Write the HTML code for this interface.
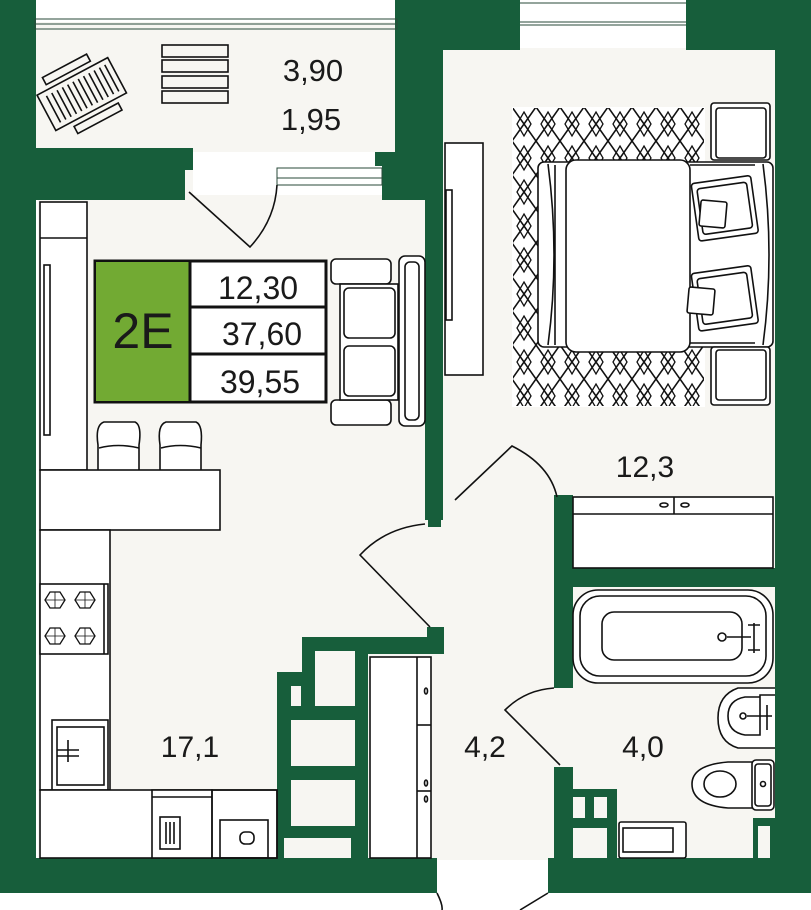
<!DOCTYPE html>
<html><head><meta charset="utf-8"><style>
html,body{margin:0;padding:0;background:#fff;}
svg{display:block;}
text{font-family:"Liberation Sans",sans-serif;fill:#1a1a1a;}
</style></head><body>
<svg width="811" height="910" viewBox="0 0 811 910" xmlns="http://www.w3.org/2000/svg">
<defs>
<pattern id="dia" x="512" y="107" width="24" height="34" patternUnits="userSpaceOnUse">
<path d="M0 0 L24 34 M24 0 L0 34" stroke="#111" stroke-width="1.6" fill="none"/>
<path d="M12 5 L19 17 L12 29 L5 17 Z" fill="none" stroke="#111" stroke-width="1.3"/>
</pattern>
</defs>
<rect width="811" height="910" fill="#fff"/>
<g fill="#f7f6f2">
<rect x="35" y="22" width="362" height="130"/>
<rect x="38" y="195" width="390" height="665"/>
<rect x="428" y="195" width="130" height="665"/>
<rect x="443" y="48" width="335" height="450"/>
<rect x="555" y="495" width="220" height="365"/>
</g>
<g fill="#175e3b">
<rect x="0" y="0" width="36" height="893"/>
<rect x="0" y="148" width="193" height="52"/>
<rect x="375" y="152" width="22" height="14"/>
<rect x="382" y="160" width="48" height="40"/>
<rect x="395" y="0" width="48" height="200"/>
<rect x="425" y="195" width="18" height="325"/>
<rect x="428" y="505" width="13" height="22"/>
<rect x="443" y="0" width="77" height="50"/>
<rect x="686" y="0" width="125" height="50"/>
<rect x="775" y="0" width="36" height="893"/>
<rect x="0" y="858" width="437" height="35"/>
<rect x="548" y="858" width="263" height="35"/>
<rect x="554" y="495" width="19" height="193"/>
<rect x="554" y="767" width="19" height="91"/>
<rect x="554" y="568" width="221" height="19"/>
<polygon points="277,672 302,672 302,637 427,637 427,627 444,627 444,654 368,654 368,858 277,858"/>
<rect x="554" y="789" width="63" height="69"/>
<rect x="753" y="818" width="22" height="40"/>
</g>
<g fill="#f7f6f2">
<rect x="291" y="686" width="10" height="20"/>
<rect x="315" y="651" width="40" height="55"/>
<rect x="291" y="720" width="64" height="46"/>
<rect x="291" y="780" width="64" height="46"/>
<rect x="284" y="838" width="67" height="20"/>
<rect x="573" y="797" width="12" height="21"/>
<rect x="594" y="797" width="13" height="21"/>
<rect x="573" y="828" width="34" height="30"/>
<rect x="758" y="826" width="12" height="32"/>
<rect x="185" y="170" width="8" height="30"/>
</g>
<g fill="none" stroke="#2a4a3a" stroke-width="1">
<rect x="35" y="19" width="362" height="10"/>
<line x1="35" y1="24" x2="397" y2="24"/>
<rect x="277" y="168" width="105" height="17"/>
<line x1="277" y1="178" x2="382" y2="178"/>
<line x1="520" y1="3" x2="686" y2="3"/>
<line x1="520" y1="22" x2="686" y2="22"/>
<line x1="520" y1="25" x2="686" y2="25"/>
</g>
<rect x="512" y="107" width="193" height="300" fill="#fff"/>
<rect x="513" y="108" width="191" height="298" fill="url(#dia)"/>
<g fill="none" stroke="#111" stroke-width="1.6">
<path d="M189 192 L250 247 Q275 220 277 185"/>
<path d="M430 627 L360 555 Q385 528 425 524"/>
<path d="M455 500 L512 446 Q550 465 557 497"/>
<path d="M560 765 L505 710 Q525 690 554 688"/>
<path d="M437 893 Q443 905 442 910"/>
<path d="M548 893 L520 910"/>
<rect x="162" y="45" width="66" height="12"/>
<rect x="162" y="60" width="66" height="12"/>
<rect x="162" y="76" width="66" height="12"/>
<rect x="162" y="91" width="66" height="12"/>
<g transform="rotate(-28 80 95)">
<rect x="42" y="75" width="80" height="40"/>
<rect x="55" y="62" width="50" height="8"/>
<rect x="60" y="120" width="50" height="8"/>
<path d="M50 80v30M56 80v30M62 80v30M68 80v30M74 80v30M80 80v30M86 80v30M92 80v30M98 80v30M104 80v30M110 80v30M116 80v30"/>
</g>
<rect x="40" y="202" width="47" height="268" fill="#fff"/>
<line x1="40" y1="238" x2="87" y2="238"/>
<rect x="44" y="265" width="6" height="170"/>
<path d="M98 470 V445 Q95 425 104 422 H135 Q142 425 139 445 V470" fill="#fff"/>
<path d="M99 448 Q118 443 139 448"/>
<path d="M160 470 V445 Q157 425 166 422 H196 Q203 425 201 445 V470" fill="#fff"/>
<path d="M161 448 Q180 443 201 448"/>
<rect x="40" y="470" width="180" height="60" fill="#fff"/>
<rect x="40" y="530" width="70" height="260" fill="#fff"/>
<rect x="40" y="584" width="68" height="70" fill="#fff"/>
<line x1="104" y1="584" x2="104" y2="654"/>
<g stroke-width="1.3">
<polygon points="45,600 50,592 60,592 65,600 60,608 50,608"/>
<polygon points="75,600 80,592 90,592 95,600 90,608 80,608"/>
<polygon points="45,636 50,628 60,628 65,636 60,644 50,644"/>
<polygon points="75,636 80,628 90,628 95,636 90,644 80,644"/>
<path d="M45 600h20M55 592v16M75 600h20M85 592v16M45 636h20M55 628v16M75 636h20M85 628v16" stroke-width="0.8"/>
</g>
<rect x="52" y="720" width="56" height="70" fill="#fff"/>
<rect x="57" y="727" width="47" height="58"/>
<path d="M57 750h22M57 756h22M68 740v22"/>
<rect x="40" y="790" width="237" height="68" fill="#fff"/>
<rect x="152" y="790" width="60" height="68" fill="#fff"/>
<line x1="152" y1="797" x2="212" y2="797"/>
<rect x="160" y="817" width="20" height="32"/>
<path d="M166 822v22M170 822v22M174 822v22"/>
<rect x="212" y="790" width="65" height="68"/>
<rect x="220" y="820" width="48" height="38"/>
<rect x="240" y="832" width="14" height="12" rx="5"/>
<rect x="95" y="261" width="231" height="141" fill="#fff" stroke-width="3"/>
<rect x="96" y="262" width="94" height="139" fill="#72aa33" stroke="none"/>
<line x1="190" y1="261" x2="190" y2="402" stroke-width="3"/>
<line x1="190" y1="307" x2="326" y2="307" stroke-width="3"/>
<line x1="190" y1="354" x2="326" y2="354" stroke-width="3"/>
<rect x="331" y="259" width="60" height="25" rx="5" fill="#fff"/>
<rect x="331" y="400" width="60" height="25" rx="5" fill="#fff"/>
<rect x="340" y="284" width="58" height="116" fill="#fff"/>
<rect x="344" y="288" width="51" height="50" rx="5"/>
<rect x="344" y="346" width="51" height="50" rx="5"/>
<rect x="399" y="256" width="26" height="170" rx="6" fill="#fff"/>
<rect x="405" y="262" width="14" height="158" rx="5"/>
<rect x="370" y="657" width="61" height="201" fill="#fff"/>
<line x1="417" y1="657" x2="417" y2="858"/>
<line x1="417" y1="725" x2="431" y2="725"/>
<line x1="417" y1="791" x2="431" y2="791"/>
<ellipse cx="426" cy="691" rx="1.5" ry="3"/>
<ellipse cx="426" cy="783" rx="1.5" ry="3"/>
<ellipse cx="426" cy="799" rx="1.5" ry="3"/>
<rect x="445" y="143" width="38" height="232" fill="#fff"/>
<rect x="446" y="190" width="6" height="130"/>
<rect x="573" y="497" width="200" height="71" fill="#fff"/>
<line x1="573" y1="514" x2="773" y2="514"/>
<line x1="674" y1="497" x2="674" y2="514"/>
<ellipse cx="664" cy="505" rx="4" ry="2"/>
<ellipse cx="685" cy="505" rx="4" ry="2"/>
<rect x="573" y="590" width="200" height="93" rx="25" fill="#fff"/>
<rect x="580" y="596" width="186" height="80" rx="20"/>
<rect x="602" y="612" width="140" height="48" rx="12"/>
<circle cx="722" cy="637" r="4"/>
<path d="M727 637h24M754 623v30M748 625h12M748 650h12"/>
<path d="M775 688 H738 Q718 695 718 718 Q718 742 738 748 H775" fill="#fff"/>
<path d="M775 695 H760 V735 H745 Q728 732 728 716 Q728 700 745 697 H760"/>
<circle cx="743" cy="716" r="3"/>
<path d="M747 716h25M767 705v25"/>
<path d="M752 762 H728 Q692 765 692 784 Q692 805 728 808 H752" fill="#fff"/>
<ellipse cx="720" cy="784" rx="16" ry="13"/>
<rect x="752" y="760" width="22" height="50" rx="4" fill="#fff"/>
<rect x="755" y="764" width="16" height="42" rx="3"/>
<circle cx="763" cy="784" r="2.5"/>
<rect x="619" y="822" width="67" height="36" rx="2" fill="#fff"/>
<rect x="623" y="828" width="50" height="24"/>
<rect x="538" y="162" width="235" height="185" rx="6" fill="#fff"/>
<path d="M548 164 Q560 255 548 345"/>
<path d="M763 164 Q775 255 763 345"/>
<line x1="555" y1="165" x2="555" y2="345"/>
<rect x="566" y="160" width="124" height="192" rx="10" fill="#fff"/>
<line x1="690" y1="165" x2="755" y2="165"/>
<line x1="690" y1="343" x2="755" y2="343"/>
<g transform="rotate(-8 720 210)"><rect x="695" y="180" width="60" height="58" rx="3" fill="#fff"/><rect x="700" y="186" width="50" height="46" rx="3"/></g>
<g transform="rotate(-8 720 300)"><rect x="695" y="270" width="60" height="58" rx="3" fill="#fff"/><rect x="700" y="276" width="50" height="46" rx="3"/></g>
<rect x="700" y="201" width="26" height="26" rx="2" fill="#fff" transform="rotate(5 713 214)"/>
<rect x="688" y="288" width="26" height="26" rx="2" fill="#fff" transform="rotate(5 701 301)"/>
<rect x="711" y="103" width="59" height="57" rx="3" fill="#fff"/>
<rect x="716" y="108" width="50" height="50" rx="3"/>
<rect x="711" y="347" width="59" height="58" rx="3" fill="#fff"/>
<rect x="716" y="350" width="50" height="50" rx="3"/>
</g>
<text x="313" y="81" font-size="31" text-anchor="middle">3,90</text>
<text x="311" y="130" font-size="31" text-anchor="middle">1,95</text>
<text x="143" y="348" font-size="50" text-anchor="middle" fill="#111">2E</text>
<text x="258" y="299" font-size="32" text-anchor="middle">12,30</text>
<text x="262" y="345" font-size="32" text-anchor="middle">37,60</text>
<text x="260" y="393" font-size="32" text-anchor="middle">39,55</text>
<text x="645" y="477" font-size="30" text-anchor="middle">12,3</text>
<text x="190" y="757" font-size="30" text-anchor="middle">17,1</text>
<text x="485" y="757" font-size="30" text-anchor="middle">4,2</text>
<text x="643" y="757" font-size="30" text-anchor="middle">4,0</text>
</svg>
</body></html>
